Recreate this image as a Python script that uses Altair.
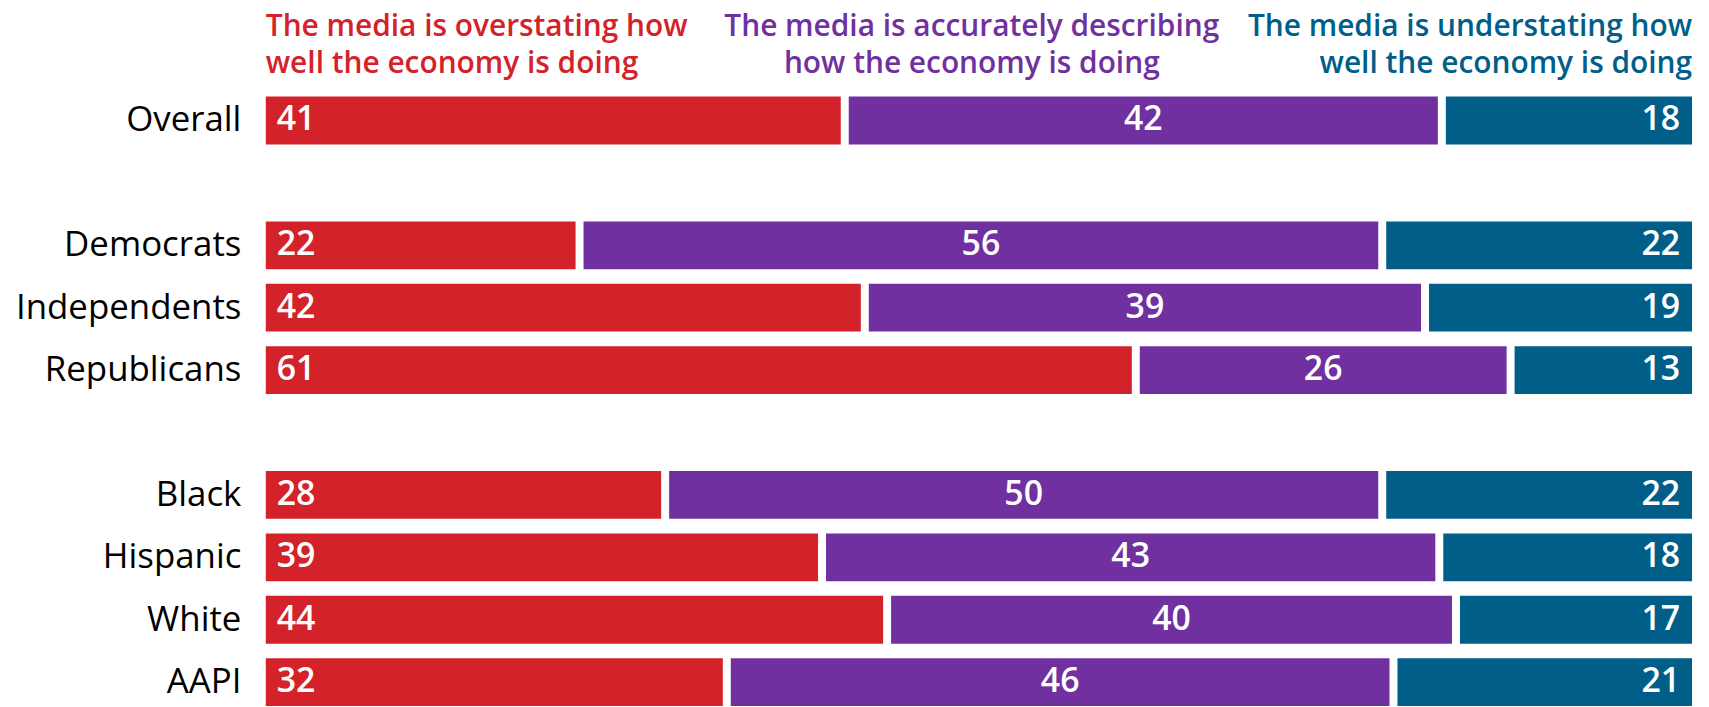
import altair as alt
import pandas as pd

# ---- data ----
groups = ["Overall", "Democrats", "Independents", "Republicans",
          "Black", "Hispanic", "White", "AAPI"]
overstating = [41, 22, 42, 61, 28, 39, 44, 32]
accurate = [42, 56, 39, 26, 50, 43, 40, 46]
understating = [18, 22, 19, 13, 22, 18, 17, 21]
responses = ["Overstating", "Accurate", "Understating"]
row_domain = ["Overall", " ", "Democrats", "Independents", "Republicans",
              "  ", "Black", "Hispanic", "White", "AAPI"]
header_over = "The media is overstating how\nwell the economy is doing"
header_acc = "The media is accurately describing\nhow the economy is doing"
header_under = "The media is understating how\nwell the economy is doing"

RED = "#D3222A"
PURPLE = "#7030A0"
TEAL = "#005E88"
FONT = "Open Sans"

rows = []
for i, g in enumerate(groups):
    for j, vals in enumerate([overstating, accurate, understating]):
        rows.append({"group": g, "response": responses[j], "order": j, "value": vals[i]})
df = pd.DataFrame(rows)

y_enc = alt.Y(
    "group:N",
    scale=alt.Scale(domain=row_domain, paddingInner=0.234, paddingOuter=0.117),
    axis=alt.Axis(title=None, ticks=False, domain=False, labelFontSize=35,
                  labelFont=FONT, labelColor="#000000", labelPadding=25,
                  labelLimit=0, grid=False),
)
x_scale = alt.Scale(domain=[0, 1], nice=False, zero=False)

base = alt.Chart(df).transform_stack(
    stack="value",
    groupby=["group"],
    as_=["x0", "x1"],
    offset="normalize",
    sort=[alt.SortField("order", order="ascending")],
)

def seg(order):
    return base.transform_filter(alt.datum.order == order)

red_bar = seg(0).mark_bar(color=RED, x2Offset=-4).encode(
    x=alt.X("x0:Q", scale=x_scale, axis=None), x2="x1:Q", y=y_enc)
purple_bar = seg(1).mark_bar(color=PURPLE, xOffset=4).encode(
    x=alt.X("x0:Q", scale=x_scale, axis=None), x2="x1:Q", y=y_enc)
teal_bar = seg(2).mark_bar(color=TEAL, xOffset=8).encode(
    x=alt.X("x0:Q", scale=x_scale, axis=None), x2="x1:Q", y=y_enc)

txt = dict(font=FONT, fontSize=34, fontWeight=600, color="white", baseline="middle")
red_txt = seg(0).mark_text(align="left", dx=11, **txt).encode(
    x=alt.X("x0:Q", scale=x_scale, axis=None), y=y_enc, text="value:Q")
purple_txt = seg(1).transform_calculate(mid="(datum.x0 + datum.x1) / 2").mark_text(
    align="center", dx=2, **txt).encode(
    x=alt.X("mid:Q", scale=x_scale, axis=None), y=y_enc, text="value:Q")
teal_txt = seg(2).mark_text(align="right", dx=-12, **txt).encode(
    x=alt.X("x1:Q", scale=x_scale, axis=None), y=y_enc, text="value:Q")

hdr = dict(font=FONT, fontSize=30, fontWeight=600, baseline="alphabetic",
           lineBreak="\n", lineHeight=38)

def header(text, anchor, align, color):
    return alt.Chart(pd.DataFrame({"t": [text]})).mark_text(
        align=align, color=color, **hdr).encode(
        x=alt.X(datum=anchor, scale=x_scale, axis=None),
        y=alt.value(-54), text="t:N")

h1 = header(header_over, 0, "left", RED)
h2 = header(header_acc, 0.495, "center", PURPLE)
h3 = header(header_under, 1, "right", TEAL)

chart = alt.layer(red_bar, purple_bar, teal_bar, red_txt, purple_txt, teal_txt,
                  h1, h2, h3).properties(
    width=1433, height=627,
    autosize=alt.AutoSizeParams(type="none"),
    padding={"left": 259, "top": 80, "right": 9, "bottom": 0},
).configure_view(stroke=None)

chart.save("out.html", embed_options={"renderer": "svg", "actions": False})
